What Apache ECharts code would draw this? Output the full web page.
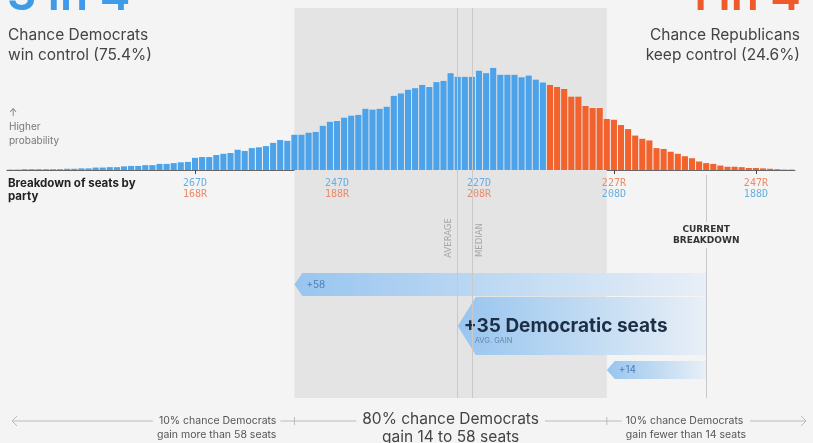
<!DOCTYPE html>
<html>
<head>
<meta charset="utf-8">
<script src="https://cdn.jsdelivr.net/npm/echarts@6/dist/echarts.min.js"></script>
<style>
html,body{margin:0;padding:0;background:#f4f4f4;}
#chart{width:813px;height:443px;}
</style>
</head>
<body>
<div id="chart"></div>
<script>
// seats won by Democrats, left = more D seats
var firstSeat = 293, lastSeat = 183;
var seatCats = [];
for (var s = firstSeat; s >= lastSeat; s--) seatCats.push(String(s));

// probability (%) of each seat outcome (293 D ... 183 D)
var probValues = [
    0.01,0.01,0.02,0.02,0.02,0.02,0.02,0.02,0.03,0.03,   // 293-284
    0.04,0.04,0.06,0.06,0.07,0.07,0.09,0.10,0.10,0.12,   // 283-274
    0.12,0.15,0.15,0.17,0.19,0.20,0.30,0.32,0.32,0.37,   // 273-264
    0.40,0.42,0.50,0.47,0.54,0.56,0.59,0.67,0.74,0.72,   // 263-254
    0.87,0.87,0.92,0.94,1.09,1.19,1.21,1.29,1.34,1.36,   // 253-244
    1.51,1.49,1.51,1.56,1.83,1.89,1.98,2.02,2.10,2.05,   // 243-234
    2.17,2.20,2.39,2.30,2.30,2.30,2.45,2.39,2.52,2.35,   // 233-224
    2.35,2.35,2.29,2.33,2.23,2.16,2.10,2.05,2.00,1.81,   // 223-214
    1.81,1.58,1.53,1.53,1.26,1.24,1.11,1.01,0.85,0.77,   // 213-204
    0.73,0.54,0.52,0.45,0.40,0.34,0.29,0.21,0.17,0.15,   // 203-194
    0.11,0.08,0.08,0.07,0.05,0.05,0.04,0.03,0.02,0.01,   // 193-184
    0.01                                                 // 183
];

var tickSeats = [267, 247, 227, 208, 188];
var totalSeats = 435;
var majority = 218;
var currentDem = 195;
var avgDem = 230;
var medianDem = 228;
var band80 = [14, 58];          // gain range for the 80% band
var gains = [58, 35, 14];       // chevron bars
var gainTexts = ['+58', '+35 Democratic seats', '+14'];

var BLUE = '#4ca3ea', RED = '#f1622d', BG = '#f4f4f4';
var yMax = 4, yMin = -5.63;

function seatIdx(seat){ return firstSeat - seat; }

var chart = echarts.init(document.getElementById('chart'));

// chevron rows (layout only)
var chevRows = [
    {top: 273, bottom: 296, tip: 8},
    {top: 297, bottom: 355, tip: 18},
    {top: 361, bottom: 379, tip: 8}
];

var option = {
    backgroundColor: BG,
    animation: false,
    grid: {left: 6.85, width: 788.1, top: 8, bottom: 45},
    xAxis: {
        type: 'category',
        data: seatCats,
        axisLine: {onZero: true, lineStyle: {color: '#666', width: 1}},
        axisTick: {
            show: true, alignWithLabel: true, length: 4,
            lineStyle: {color: '#444'},
            interval: function(i, v){ return tickSeats.indexOf(+v) >= 0; }
        },
        axisLabel: {show: false}
    },
    yAxis: {type: 'value', min: yMin, max: yMax, show: false},
    series: [
        {
            // 80% band + average / median lines
            type: 'line', data: [], z: 1, silent: true,
            markArea: {
                silent: true,
                itemStyle: {color: '#e4e4e4', opacity: 1},
                data: [[
                    {xAxis: seatIdx(currentDem + band80[1]), yAxis: yMax},
                    {xAxis: seatIdx(currentDem + band80[0]), yAxis: yMin}
                ]]
            },
            markLine: {
                silent: true, symbol: 'none', label: {show: false},
                lineStyle: {color: '#c9c9c9', width: 1, type: 'solid'},
                data: [
                    [{xAxis: seatIdx(avgDem), yAxis: yMax}, {xAxis: seatIdx(avgDem), yAxis: yMin}],
                    [{xAxis: seatIdx(medianDem), yAxis: yMax}, {xAxis: seatIdx(medianDem), yAxis: yMin}],
                    [{xAxis: seatIdx(currentDem), yAxis: -0.12}, {xAxis: seatIdx(currentDem), yAxis: yMin}]
                ]
            }
        },
        {
            name: 'probability',
            type: 'bar',
            z: 2,
            barCategoryGap: '14%',
            data: probValues,
            itemStyle: {
                color: function(p){ return (firstSeat - p.dataIndex) >= majority ? BLUE : RED; }
            }
        },
        {
            type: 'custom',
            z: 3,
            silent: true,
            data: gains.map(function(g, i){ return [i, g]; }),
            encode: {x: 0, y: 1},
            renderItem: function(params, api){
                var i = params.dataIndex;
                var g = api.value(1);
                var xL = api.coord([seatIdx(currentDem + g), 0])[0];
                var xR = api.coord([seatIdx(currentDem), 0])[0];
                var r = chevRows[i];
                var mid = (r.top + r.bottom) / 2;
                var fill = new echarts.graphic.LinearGradient(0, 0, 1, 0, [
                    {offset: 0, color: '#98c5ef'},
                    {offset: 0.55, color: '#c3dcf3'},
                    {offset: 1, color: '#e8eff7'}
                ]);
                var kids = [{
                    type: 'polygon',
                    shape: {points: [[xL, mid], [xL + r.tip, r.top], [xR, r.top], [xR, r.bottom], [xL + r.tip, r.bottom]]},
                    style: {fill: fill}
                }];
                if (i === 1) {
                    kids.push({type: 'text', style: {text: gainTexts[i], x: xL + 6, y: mid, verticalAlign: 'middle',
                        font: 'bold 19px Inter, Roboto, sans-serif', fill: '#1d2f45'}});
                    kids.push({type: 'text', style: {text: 'AVG. GAIN', x: xL + 17, y: mid + 15, verticalAlign: 'middle',
                        font: '7.5px Inter, Roboto, sans-serif', fill: '#6388b0'}});
                } else {
                    kids.push({type: 'text', style: {text: gainTexts[i], x: xL + 12, y: mid, verticalAlign: 'middle',
                        font: '10px Inter, Roboto, sans-serif', fill: '#4a7fb5'}});
                }
                return {type: 'group', children: kids};
            }
        }
    ]
};
chart.setOption(option);

// annotation positions from the axis
function px(seat){ return chart.convertToPixel({xAxisIndex: 0, yAxisIndex: 0}, [seatIdx(seat), 0])[0]; }
var bandL = px(currentDem + band80[1]), bandR = px(currentDem + band80[0]);
var avgX = px(avgDem), medX = px(medianDem), curX = px(currentDem);
var lineY = 421;
var sans = 'Inter, Roboto, sans-serif';

var graphics = [
    {type: 'text', style: {text: '3 in 4', x: 7, y: -4, verticalAlign: 'middle', font: '600 46px ' + sans, fill: '#3d9be9'}},
    {type: 'text', style: {text: '1 in 4', x: 801, y: -4, align: 'right', verticalAlign: 'middle', font: '600 46px ' + sans, fill: '#ef5a2c'}},
    {type: 'text', style: {text: 'Chance Democrats\nwin control (75.4%)', x: 8, y: 25, lineHeight: 20, font: '15.5px ' + sans, fill: '#444'}},
    {type: 'text', style: {text: 'Chance Republicans\nkeep control (24.6%)', x: 800, y: 25, align: 'right', lineHeight: 20, font: '15.5px ' + sans, fill: '#444'}},
    {type: 'text', style: {text: '↑\nHigher\nprobability', x: 9, y: 106, lineHeight: 14, font: '10px ' + sans, fill: '#777'}},
    {type: 'text', style: {text: 'Breakdown of seats by\nparty', x: 8, y: 177, lineHeight: 13, font: 'bold 11.5px ' + sans, fill: '#222'}},
    {type: 'text', rotation: Math.PI / 2, x: avgX - 9, y: 238,
        style: {text: 'AVERAGE', align: 'center', verticalAlign: 'middle', font: '8.5px DejaVu Sans', fill: '#a6a6a6'}},
    {type: 'text', rotation: Math.PI / 2, x: medX + 8, y: 240,
        style: {text: 'MEDIAN', align: 'center', verticalAlign: 'middle', font: '8.5px DejaVu Sans', fill: '#a6a6a6'}},
    {type: 'text', style: {text: 'CURRENT\nBREAKDOWN', x: curX, y: 235, align: 'center', verticalAlign: 'middle', lineHeight: 11,
        font: 'bold 9px DejaVu Sans', fill: '#333', backgroundColor: BG, padding: [2, 0]}},
    // bottom range line
    {type: 'line', shape: {x1: 12, y1: lineY, x2: 806, y2: lineY}, style: {stroke: '#bbb', lineWidth: 1}},
    {type: 'polyline', shape: {points: [[17, lineY - 5], [12, lineY], [17, lineY + 5]]}, style: {stroke: '#bbb', lineWidth: 1, fill: null}},
    {type: 'polyline', shape: {points: [[801, lineY - 5], [806, lineY], [801, lineY + 5]]}, style: {stroke: '#bbb', lineWidth: 1, fill: null}},
    {type: 'line', shape: {x1: bandL, y1: lineY - 4, x2: bandL, y2: lineY + 4}, style: {stroke: '#bbb', lineWidth: 1}},
    {type: 'line', shape: {x1: bandR, y1: lineY - 4, x2: bandR, y2: lineY + 4}, style: {stroke: '#bbb', lineWidth: 1}},
    {type: 'text', style: {text: '10% chance Democrats\ngain more than ' + band80[1] + ' seats', x: bandL - 14, y: 428,
        align: 'right', verticalAlign: 'middle', lineHeight: 14, font: '10.5px ' + sans, fill: '#555',
        backgroundColor: BG, padding: [0, 4]}},
    {type: 'text', style: {text: '80% chance Democrats\ngain ' + band80[0] + ' to ' + band80[1] + ' seats', x: (bandL + bandR) / 2, y: 428,
        align: 'center', verticalAlign: 'middle', lineHeight: 18, font: '15.5px ' + sans, fill: '#444',
        backgroundColor: BG, padding: [0, 6]}},
    {type: 'text', style: {text: '10% chance Democrats\ngain fewer than ' + band80[0] + ' seats', x: bandR + 15, y: 428,
        align: 'left', verticalAlign: 'middle', lineHeight: 14, font: '10.5px ' + sans, fill: '#555',
        backgroundColor: BG, padding: [0, 4]}}
];

// seat breakdown tick labels (D / R), colored by party
tickSeats.forEach(function(d){
    var r = totalSeats - d;
    var dFirst = d >= majority;
    graphics.push({type: 'text', style: {
        text: dFirst ? '{d|' + d + 'D}\n{r|' + r + 'R}' : '{r|' + r + 'R}\n{d|' + d + 'D}',
        x: px(d), y: 178, align: 'center',
        rich: {
            d: {fill: '#6aaee0', font: '10px DejaVu Sans Mono', lineHeight: 11},
            r: {fill: '#ea8a6a', font: '10px DejaVu Sans Mono', lineHeight: 11}
        }
    }});
});

// keep annotations above the band
graphics.forEach(function(g){ g.z = 100; });

chart.setOption({graphic: graphics});
</script>
</body>
</html>
